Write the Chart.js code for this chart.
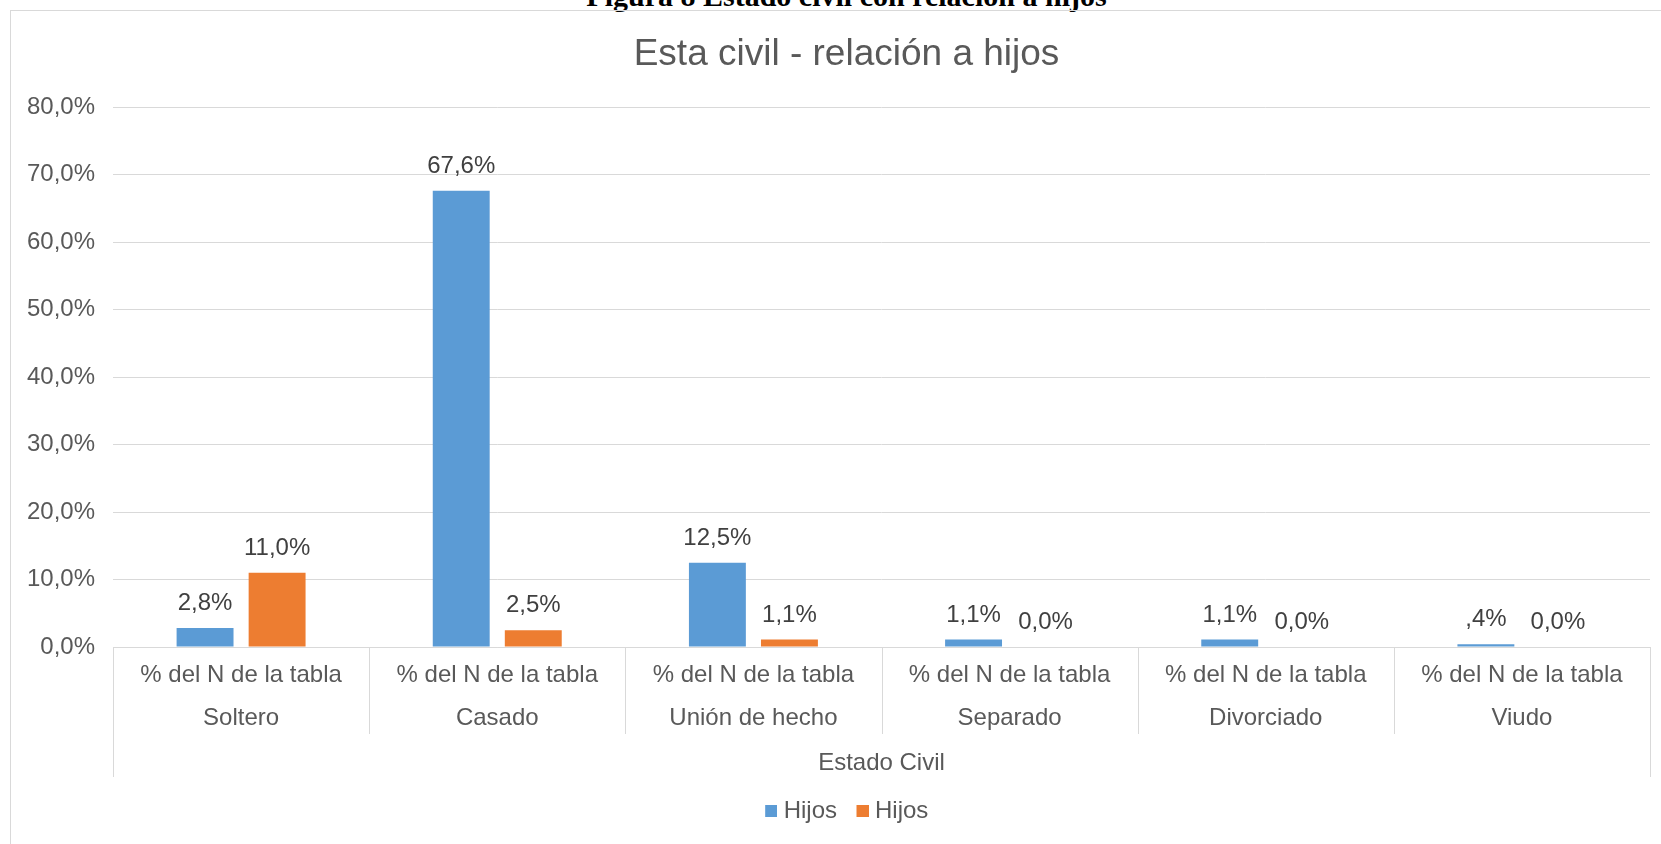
<!DOCTYPE html>
<html>
<head>
<meta charset="utf-8">
<script src="https://cdn.jsdelivr.net/npm/chart.js@4.4.0/dist/chart.umd.min.js"></script>
<style>
  html, body { margin: 0; padding: 0; background: #fff; overflow: hidden; width: 1661px; height: 844px; }
  #wrap { position: relative; width: 1661px; height: 844px; overflow: hidden; }
  #frame { position: absolute; left: 10px; top: 10px; width: 1700px; height: 900px; border: 1px solid #d9d9d9; }
  #caption { position: absolute; top: -19px; left: 0; width: 1693px; text-align: center;
             font: bold 30px "Liberation Serif", "Times New Roman", serif; line-height: 30px;
             color: #000; white-space: nowrap; }
  canvas { position: absolute; left: 0; top: 0; }
</style>
</head>
<body>
<div id="wrap">
  <div id="caption">Figura 8 Estado civil con relación a hijos</div>
  <div id="frame"></div>
  <canvas id="c" width="1693" height="844"></canvas>
</div>
<script>
// Estado civil y porcentaje del N de la tabla
const estados = ['Soltero', 'Casado', 'Unión de hecho', 'Separado', 'Divorciado', 'Viudo'];
const medida = '% del N de la tabla';
const hijosSerie1 = [2.8, 67.6, 12.5, 1.1, 1.1, 0.4];
const hijosSerie2 = [11.0, 2.5, 1.1, 0.0, 0.0, 0.0];
const nombresSeries = ['Hijos', 'Hijos'];
const coloresSeries = ['#5B9BD5', '#ED7D31'];
const tituloEje = 'Estado Civil';
const tituloGrafico = 'Esta civil - relación a hijos';
const ticksY = [0, 10, 20, 30, 40, 50, 60, 70, 80];

const FONT = '"Liberation Sans", Arial, sans-serif';
const GRIS = '#595959';
const LINEA = '#d9d9d9';
const TAM = 24;

// SPSS-style percentages: comma decimal, no leading zero below 1
function pct(v, sinCero) {
  let s = v.toFixed(1).replace('.', ',');
  if (sinCero && v > 0 && v < 1) s = s.replace(/^0/, '');
  return s + '%';
}

// widest y label, so the labels can sit right-aligned just left of the plot
const medidor = document.createElement('canvas').getContext('2d');
medidor.font = TAM + 'px ' + FONT;
const anchoEtiquetaY = Math.max(...ticksY.map(v => medidor.measureText(pct(v, false)).width));

// legend swatch: 12px square set close to its label
function muestra(color) {
  const c = document.createElement('canvas');
  c.width = 18; c.height = 12;
  const g = c.getContext('2d');
  g.fillStyle = color;
  g.fillRect(6, 0, 12, 12);
  return c;
}

// value labels above each bar
const etiquetasValor = {
  id: 'etiquetasValor',
  afterDatasetsDraw(chart) {
    const ctx = chart.ctx;
    ctx.save();
    ctx.font = TAM + 'px ' + FONT;
    ctx.fillStyle = '#404040';
    ctx.textAlign = 'center';
    ctx.textBaseline = 'middle';
    chart.data.datasets.forEach((ds, di) => {
      chart.getDatasetMeta(di).data.forEach((bar, i) => {
        ctx.fillText(pct(ds.data[i], true), bar.x, bar.y - 24.5);
      });
    });
    ctx.restore();
  }
};

// dividers of the grouped category axis
const divisores = {
  id: 'divisores',
  afterDraw(chart) {
    const sx = chart.scales.x;
    const ctx = chart.ctx;
    const n = chart.data.labels.length;
    ctx.save();
    ctx.strokeStyle = LINEA;
    ctx.lineWidth = 1;
    for (let i = 0; i <= n; i++) {
      const px = Math.round(sx.getPixelForValue(i - 0.5)) + 0.5;
      const largo = (i === 0 || i === n) ? 130 : 87;
      ctx.beginPath();
      ctx.moveTo(px, sx.top);
      ctx.lineTo(px, sx.top + largo);
      ctx.stroke();
    }
    ctx.restore();
  }
};

new Chart(document.getElementById('c'), {
  type: 'bar',
  data: {
    labels: estados.map(e => [medida, e]),
    datasets: [
      { label: nombresSeries[0], data: hijosSerie1, backgroundColor: coloresSeries[0], borderWidth: 0, pointStyle: muestra(coloresSeries[0]) },
      { label: nombresSeries[1], data: hijosSerie2, backgroundColor: coloresSeries[1], borderWidth: 0, pointStyle: muestra(coloresSeries[1]) }
    ]
  },
  options: {
    responsive: false,
    animation: false,
    categoryPercentage: 0.5625,
    barPercentage: 0.79,
    layout: { padding: { left: 43, right: 43, top: 0, bottom: 11 } },
    plugins: {
      title: {
        display: true,
        text: tituloGrafico,
        color: GRIS,
        font: { family: FONT, size: 37, weight: 'normal', lineHeight: 1.2 },
        padding: { top: 33, bottom: 29.6 }
      },
      legend: {
        position: 'bottom',
        labels: {
          color: GRIS,
          font: { family: FONT, size: TAM },
          usePointStyle: true,
          pointStyleWidth: 7,
          boxHeight: 12,
          padding: 19
        }
      },
      tooltip: { enabled: false }
    },
    scales: {
      x: {
        grid: { display: false, drawTicks: false },
        border: { display: true, color: LINEA, width: 1 },
        ticks: {
          color: GRIS,
          font: { family: FONT, size: TAM, lineHeight: 1.8 },
          padding: 6.4,
          maxRotation: 0,
          autoSkip: false
        },
        title: {
          display: true,
          text: tituloEje,
          color: GRIS,
          font: { family: FONT, size: TAM, lineHeight: 1.2 },
          padding: { top: 2.4, bottom: 2.6 }
        }
      },
      y: {
        min: ticksY[0],
        max: ticksY[ticksY.length - 1],
        grid: { color: LINEA, lineWidth: 1, drawTicks: false },
        border: { display: false },
        ticks: {
          stepSize: ticksY[1] - ticksY[0],
          color: GRIS,
          font: { family: FONT, size: TAM },
          mirror: true,
          crossAlign: 'far',
          padding: -(18 + anchoEtiquetaY),
          callback: v => pct(v, false)
        },
        afterFit(scale) { scale.width = 70; }
      }
    }
  },
  plugins: [etiquetasValor, divisores]
});
</script>
</body>
</html>
